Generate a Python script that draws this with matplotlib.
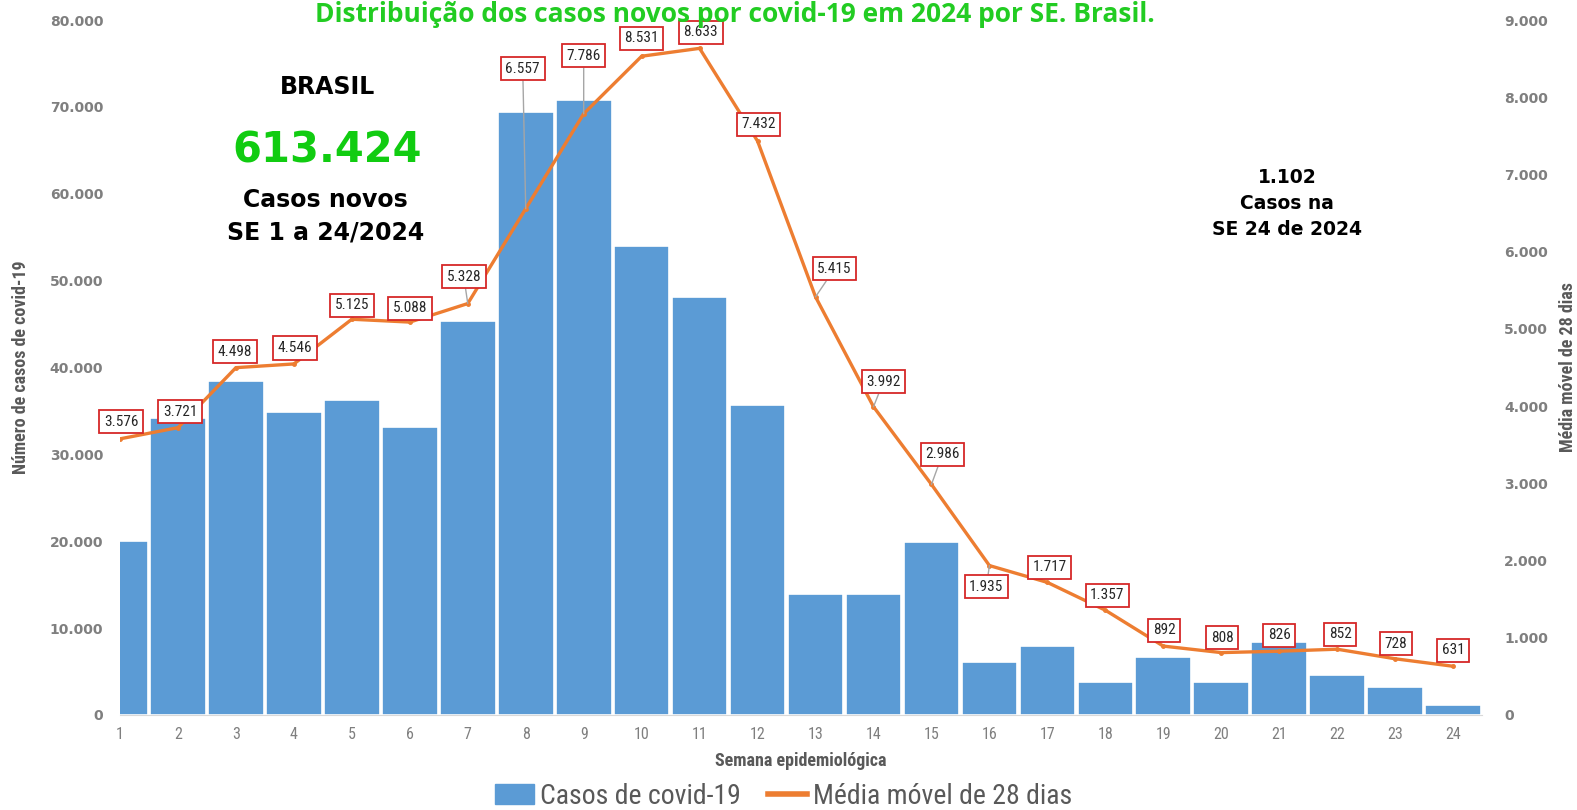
import matplotlib
matplotlib.use("Agg")
import matplotlib.pyplot as plt
from matplotlib.ticker import FuncFormatter, MultipleLocator
from matplotlib.font_manager import fontManager

# Weekly data (epidemiological weeks 1-24 of 2024)
semanas = list(range(1, 25))
casos = [20000, 34200, 38500, 34900, 36300, 33200, 45300, 69400, 70800, 54000,
         48100, 35700, 13950, 13950, 19900, 6050, 7900, 3750, 6650, 3750,
         8450, 4650, 3250, 1102]
media_movel = [3576, 3721, 4498, 4546, 5125, 5088, 5328, 6557, 7786, 8531,
               8633, 7432, 5415, 3992, 2986, 1935, 1717, 1357, 892, 808,
               826, 852, 728, 631]
# label offsets (pixels) from each point of the moving average, and leader lines
offsets = [(1, 17), (2, 16), (-1, 16), (1, 16), (0, 14), (0, 14), (-4, 27),
           (-3, 140), (0, 58), (0, 18), (1, 16), (1, 17), (19, 28), (10, 25),
           (11, 30), (-3, -21), (2, 15), (2, 15), (1, 16), (1, 15), (0, 16),
           (3, 15), (1, 15), (0, 16)]
leader = [False, False, False, False, False, False, True, True, True, False,
          False, False, True, True, True, True, False, False, False, False,
          False, False, False, False]

total = "613.424"
titulo = "Distribuição dos casos novos por covid-19 em 2024 por SE. Brasil."

names = {f.name for f in fontManager.ttflist}
narrow = "Liberation Sans"
for cand in ("Liberation Sans Narrow", "Roboto Condensed", "Open Sans Condensed",
             "DejaVu Sans Condensed"):
    if cand in names:
        narrow = cand
        break


def fmt(v, _=None):
    return f"{v:,.0f}".replace(",", ".")


BLUE = "#5b9bd5"
ORANGE = "#ed7d31"
GRAY = "#7f7f7f"
DARK = "#595959"

fig = plt.figure(figsize=(15.77, 8.10), dpi=100)
ax = fig.add_axes([0.0761, 0.1173, 0.8637, 0.858])
ax2 = ax.twinx()

ax.bar(semanas, casos, width=0.96, color=BLUE, edgecolor="white", linewidth=1.2, zorder=2)
ax.set_xlim(1, 24.5)
ax.set_ylim(0, 80000)
ax.yaxis.set_major_locator(MultipleLocator(10000))
ax.yaxis.set_major_formatter(FuncFormatter(fmt))
ax.set_xticks(semanas)
ax.set_xticklabels([str(s) for s in semanas], family=narrow, fontsize=11.5, color=GRAY)

ax2.plot(semanas, media_movel, color=ORANGE, lw=2.4, marker="o", ms=2.5, zorder=3)
ax2.set_ylim(0, 9000)
ax2.yaxis.set_major_locator(MultipleLocator(1000))
ax2.yaxis.set_major_formatter(FuncFormatter(fmt))

for a in (ax, ax2):
    for s in a.spines.values():
        s.set_visible(False)
    a.tick_params(length=0)
    for lab in a.get_yticklabels():
        lab.set_fontweight("bold")
        lab.set_fontsize(10)
        lab.set_color(GRAY)
        lab.set_family("DejaVu Sans")
ax.spines["bottom"].set_visible(True)
ax.spines["bottom"].set_color("#d9d9d9")
ax.tick_params(axis="y", pad=12)
ax2.tick_params(axis="y", pad=16)
ax.tick_params(axis="x", pad=9)

ax.set_xlabel("Semana epidemiológica", family=narrow, fontsize=13, fontweight="bold",
              color=DARK, labelpad=7)
ax.set_ylabel("Número de casos de covid-19", family=narrow, fontsize=13,
              fontweight="bold", color=DARK, labelpad=14)
ax2.set_ylabel("Média móvel de 28 dias", family=narrow, fontsize=13,
               fontweight="bold", color=DARK, labelpad=8)

for x, v, (dx, dy), ld in zip(semanas, media_movel, offsets, leader):
    arrow = dict(arrowstyle="-", color="#a6a6a6", lw=1, shrinkA=0, shrinkB=0) if ld else None
    ax2.annotate(fmt(v), xy=(x, v), xytext=(dx, dy), textcoords="offset pixels",
                 ha="center", va="center", fontsize=11, family=narrow, color="#262626",
                 bbox=dict(boxstyle="square,pad=0.3", fc="white", ec="#d62728", lw=1.3),
                 arrowprops=arrow, zorder=5)

# Headline text
fig.text(0.466, 0.9728, titulo, ha="center", va="baseline", fontsize=19,
         fontweight="bold", color="#22cc22", family="Open Sans")
ax.text(0.152, 0.903, "BRASIL", transform=ax.transAxes, ha="center", va="center",
        fontsize=17, fontweight="bold", color="black", family="DejaVu Sans")
ax.text(0.152, 0.812, total, transform=ax.transAxes, ha="center", va="center",
        fontsize=30, fontweight="bold", color="#11cc11", family="DejaVu Sans")
ax.text(0.151, 0.741, "Casos novos", transform=ax.transAxes, ha="center", va="center",
        fontsize=17, fontweight="bold", color="black", family="DejaVu Sans")
ax.text(0.151, 0.694, "SE 1 a 24/2024", transform=ax.transAxes, ha="center", va="center",
        fontsize=17, fontweight="bold", color="black", family="DejaVu Sans")
ax.text(0.857, 0.773, "1.102", transform=ax.transAxes, ha="center", va="center",
        fontsize=13.5, fontweight="bold", color="black", family="DejaVu Sans")
ax.text(0.857, 0.736, "Casos na", transform=ax.transAxes, ha="center", va="center",
        fontsize=13.5, fontweight="bold", color="black", family="DejaVu Sans")
ax.text(0.857, 0.698, "SE 24 de 2024", transform=ax.transAxes, ha="center", va="center",
        fontsize=13.5, fontweight="bold", color="black", family="DejaVu Sans")

# Legend
h1 = plt.Rectangle((0, 0), 1, 1, color=BLUE)
h2 = plt.Line2D([], [], color=ORANGE, lw=4)
fig.legend([h1, h2], ["Casos de covid-19", "Média móvel de 28 dias"], loc="center",
           bbox_to_anchor=(0.497, 0.017), ncol=2, frameon=False,
           prop={"family": narrow, "size": 20}, labelcolor=DARK,
           handlelength=1.4, handletextpad=0.2, columnspacing=1.0,
           borderpad=0.1)

fig.savefig("out.png", dpi=100)
